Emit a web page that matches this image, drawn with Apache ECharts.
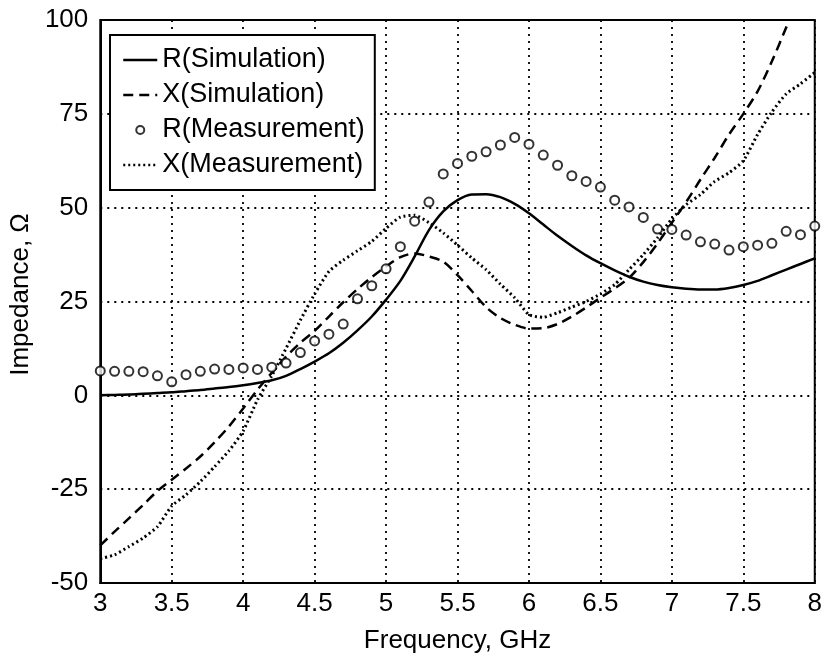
<!DOCTYPE html>
<html>
<head>
<meta charset="utf-8">
<title>Impedance vs Frequency</title>
<script src="https://cdn.jsdelivr.net/npm/echarts@6/dist/echarts.min.js"></script>
<style>
  html, body { margin: 0; padding: 0; background: #fff; }
  #chart { width: 825px; height: 664px; }
</style>
</head>
<body>
<div id="chart"></div>
<script>
// Frequency samples (GHz)
const freq = [3.0, 3.1, 3.2, 3.3, 3.4, 3.5, 3.6, 3.7, 3.8, 3.9,
              4.0, 4.1, 4.2, 4.3, 4.4, 4.5, 4.6, 4.7, 4.8, 4.9,
              5.0, 5.1, 5.2, 5.3, 5.4, 5.5, 5.6, 5.7, 5.8, 5.9,
              6.0, 6.1, 6.2, 6.3, 6.4, 6.5, 6.6, 6.7, 6.8, 6.9,
              7.0, 7.1, 7.2, 7.3, 7.4, 7.5, 7.6, 7.7, 7.8, 7.9, 8.0];

// Simulated resistance (Ohm)
const rSim = [0.0, 0.1, 0.2, 0.4, 0.6, 0.8, 1.1, 1.4, 1.8, 2.2,
              2.7, 3.3, 4.0, 5.2, 7.0, 9.0, 11.2, 14.0, 17.3, 21.0,
              25.5, 30.5, 37.0, 44.0, 49.0, 52.0, 53.5, 53.6, 52.8, 51.0,
              48.5, 45.5, 42.5, 39.8, 37.3, 35.2, 33.3, 31.6, 30.3, 29.4,
              28.8, 28.4, 28.2, 28.2, 28.6, 29.4, 30.5, 32.0, 33.5, 35.0, 36.5];

// Simulated reactance (Ohm); leaves the top of the plot just past 7.8 GHz
const xSimFreq = [3.0, 3.1, 3.2, 3.3, 3.4, 3.5, 3.6, 3.7, 3.8, 3.9,
                  4.0, 4.1, 4.2, 4.3, 4.4, 4.5, 4.6, 4.7, 4.8, 4.9,
                  5.0, 5.1, 5.2, 5.3, 5.4, 5.5, 5.6, 5.7, 5.8, 5.9,
                  6.0, 6.1, 6.2, 6.3, 6.4, 6.5, 6.6, 6.7, 6.8, 6.9,
                  7.0, 7.1, 7.2, 7.3, 7.4, 7.5, 7.6, 7.7, 7.8, 7.82];
const xSim = [-40.0, -36.3, -32.8, -29.2, -25.5, -22.5, -19.5, -16.3, -12.5, -8.3,
              -3.5, 1.5, 6.0, 10.3, 14.0, 17.2, 21.0, 24.8, 28.3, 31.5,
              34.3, 36.8, 37.8, 37.0, 35.6, 32.0, 27.8, 23.5, 20.6, 18.8,
              17.8, 17.9, 19.0, 21.0, 23.4, 26.0, 28.5, 31.3, 35.5, 40.5,
              46.0, 51.5, 57.5, 63.3, 69.5, 75.0, 81.0, 89.0, 98.0, 100.0];

// Measured resistance (Ohm)
const rMeas = [6.5, 6.4, 6.4, 6.3, 5.2, 3.6, 5.5, 6.4, 7.0, 6.9,
               7.3, 6.9, 7.5, 8.6, 11.4, 14.5, 16.3, 19.0, 25.7, 29.2,
               33.7, 39.6, 46.4, 51.5, 59.0, 61.8, 63.7, 64.9, 66.7, 68.7,
               66.9, 64.0, 61.3, 58.5, 57.0, 55.5, 52.0, 50.2, 47.4, 44.3,
               44.2, 42.7, 40.9, 40.3, 38.7, 39.6, 40.0, 40.5, 43.7, 42.8, 45.1];

// Measured reactance (Ohm)
const xMeas = [-43.5, -42.5, -40.3, -38.0, -35.0, -29.5, -26.5, -23.0, -19.0, -14.8,
               -9.5, -1.2, 5.2, 12.5, 20.0, 27.0, 33.0, 36.0, 38.5, 41.0,
               44.5, 47.5, 48.0, 46.0, 43.3, 40.0, 36.6, 33.5, 29.6, 26.0,
               21.5, 20.8, 22.0, 23.5, 25.0, 27.0, 29.5, 33.5, 37.5, 42.0,
               47.0, 50.8, 53.5, 57.0, 59.3, 62.5, 69.5, 75.5, 80.3, 83.0, 86.0];

const seriesNames = ['R(Simulation)', 'X(Simulation)', 'R(Measurement)', 'X(Measurement)'];

const pairs = (xs, ys) => xs.map((x, i) => [x, ys[i]]);

const FONT = '"Liberation Sans", Arial, Helvetica, sans-serif';
const GRID_DOTS = { color: '#000', type: [2, 5], width: 1.8 };

// Legend entries for the curves show only the line pattern, no marker
const legendData = [
  { name: seriesNames[0], itemStyle: { opacity: 0 } },
  { name: seriesNames[1], itemStyle: { opacity: 0 } },
  { name: seriesNames[2] },
  { name: seriesNames[3], itemStyle: { opacity: 0 } }
];

const chart = echarts.init(document.getElementById('chart'), null, { renderer: 'canvas' });

chart.setOption({
  animation: false,
  backgroundColor: '#ffffff',
  textStyle: { fontFamily: FONT, color: '#000' },
  grid: {
    left: 93, right: 10, top: 20, bottom: 81,
    show: true, borderColor: '#000', borderWidth: 2, backgroundColor: 'transparent'
  },
  legend: {
    orient: 'vertical',
    left: 110, top: 35,
    data: legendData,
    backgroundColor: '#fff',
    borderColor: '#000',
    borderWidth: 2,
    borderRadius: 0,
    padding: [10, 10, 10, 12],
    itemWidth: 34,
    itemHeight: 8,
    itemGap: 5,
    selectedMode: false,
    lineStyle: { width: 2.5 },
    textStyle: { fontFamily: FONT, fontSize: 27, color: '#000', lineHeight: 30 }
  },
  xAxis: {
    type: 'value',
    min: 3, max: 8, interval: 0.5,
    name: 'Frequency, GHz',
    nameLocation: 'middle',
    nameGap: 45,
    nameTextStyle: { fontFamily: FONT, fontSize: 26, color: '#000', verticalAlign: 'top' },
    axisLine: { show: true, onZero: false, lineStyle: { color: '#000', width: 2 } },
    axisTick: { show: false },
    axisLabel: { fontFamily: FONT, fontSize: 26, color: '#000', margin: 8 },
    splitLine: { show: true, lineStyle: GRID_DOTS }
  },
  yAxis: {
    type: 'value',
    min: -50, max: 100, interval: 25,
    name: 'Impedance, \u03A9',
    nameLocation: 'middle',
    nameGap: 51,
    nameRotate: 90,
    nameTextStyle: { fontFamily: FONT, fontSize: 26, color: '#000', padding: [0, 0, 0, 14] },
    axisLine: { show: true, lineStyle: { color: '#000', width: 2 } },
    axisTick: { show: false },
    axisLabel: { fontFamily: FONT, fontSize: 26, color: '#000', margin: 12 },
    splitLine: { show: true, lineStyle: GRID_DOTS }
  },
  series: [
    {
      name: seriesNames[0],
      type: 'line',
      data: pairs(freq, rSim),
      symbol: 'none',
      smooth: 0.3,
      clip: true,
      lineStyle: { color: '#000', width: 2.5, type: 'solid' },
      itemStyle: { color: '#000' },
      z: 3
    },
    {
      name: seriesNames[1],
      type: 'line',
      data: pairs(xSimFreq, xSim),
      symbol: 'none',
      smooth: 0.3,
      clip: true,
      lineStyle: { color: '#000', width: 2.5, type: [10, 6] },
      itemStyle: { color: '#000' },
      z: 3
    },
    {
      name: seriesNames[2],
      type: 'scatter',
      data: pairs(freq, rMeas),
      symbol: 'emptyCircle',
      symbolSize: 9,
      itemStyle: { color: '#000', borderColor: '#000', borderWidth: 2.4 },
      z: 4
    },
    {
      name: seriesNames[3],
      type: 'line',
      data: pairs(freq, xMeas),
      symbol: 'none',
      smooth: 0.2,
      clip: true,
      lineStyle: { color: '#000', width: 3, type: [2, 3] },
      itemStyle: { color: '#000' },
      z: 3
    }
  ]
});
</script>
</body>
</html>
